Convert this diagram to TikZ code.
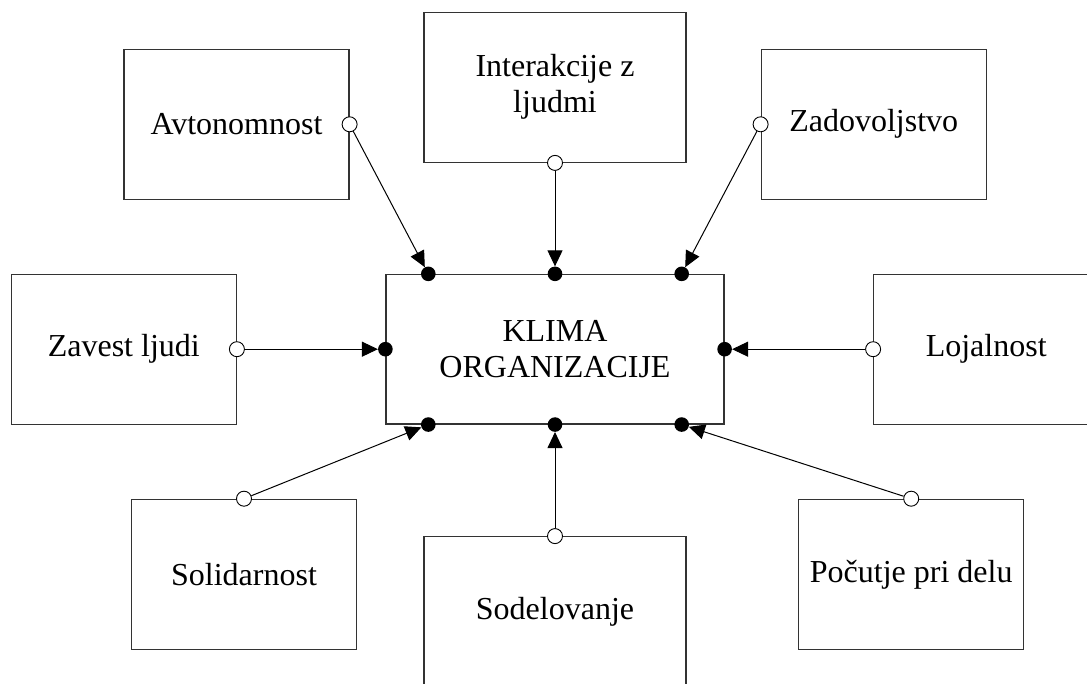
\documentclass[tikz,border=0pt]{standalone}
\usepackage{fontspec}
\setmainfont{Liberation Serif}
\usetikzlibrary{arrows.meta}
\begin{document}
\begin{tikzpicture}[x=1pt,y=-1pt,
  factor/.style={draw=black!80, line width=1.2pt, minimum width=225pt,
    minimum height=150pt, inner sep=0pt, align=center,
    font=\fontsize{32}{36}\selectfont},
  port/.style={circle, draw=black, line width=0.9pt, fill=white,
    minimum size=15pt, inner sep=0pt},
  sink/.style={circle, fill=black, minimum size=14.6pt, inner sep=0pt},
  link/.style={line width=1pt, -{Triangle[length=16pt,width=15pt]}}
]
\clip (0,0) rectangle (1087,684);

% factor boxes
\node[factor] (avt) at (236.5,124.3) {Avtonomnost};
\node[factor, minimum width=262pt] (int) at (555,87.3) {Interakcije z\\ljudmi};
\node[factor] (zad) at (873.7,124.3) {Zadovoljstvo};
\node[factor] (zav) at (123.8,349.2) {Zavest ljudi};
\node[factor, minimum width=338pt, minimum height=149.5pt] (klima) at (555,349.2) {KLIMA\\ORGANIZACIJE};
\node[factor] (loj) at (986.2,349.2) {Lojalnost};
\node[factor] (sol) at (244,574.3) {Solidarnost};
\node[factor, minimum width=262pt] (sod) at (555,611.7) {Sodelovanje};
\node[factor] (poc) at (911.2,574.3) {Počutje pri delu};

% outgoing ports
\node[port] (avtp) at (avt.east) {};
\node[port] (intp) at (int.south) {};
\node[port] (zadp) at (zad.west) {};
\node[port] (zavp) at (zav.east) {};
\node[port] (lojp) at (loj.west) {};
\node[port] (solp) at (sol.north) {};
\node[port] (sodp) at (sod.north) {};
\node[port] (pocp) at (poc.north) {};

% incoming points on the central box
\node[sink] (k1) at ([xshift=-126.7pt]klima.north) {};
\node[sink] (k2) at (klima.north) {};
\node[sink] (k3) at ([xshift=126.7pt]klima.north) {};
\node[sink] (k4) at (klima.west) {};
\node[sink] (k5) at (klima.east) {};
\node[sink] (k6) at ([xshift=-126.7pt]klima.south) {};
\node[sink] (k7) at (klima.south) {};
\node[sink] (k8) at ([xshift=126.7pt]klima.south) {};

% connectors
\draw[link] (avtp) -- (k1);
\draw[link] (intp) -- (k2);
\draw[link] (zadp) -- (k3);
\draw[link] (zavp) -- (k4);
\draw[link] (lojp) -- (k5);
\draw[link] (solp) -- (k6);
\draw[link] (sodp) -- (k7);
\draw[link] (pocp) -- (k8);
\end{tikzpicture}
\end{document}
